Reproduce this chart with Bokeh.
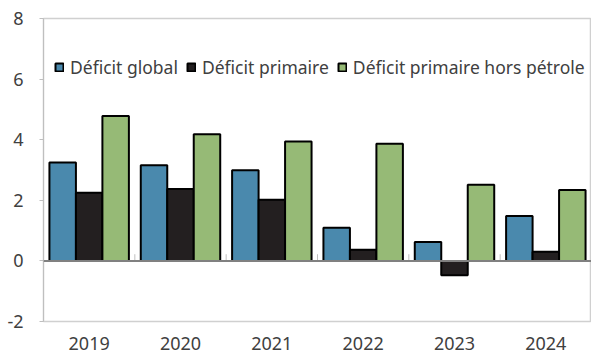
from bokeh.plotting import figure
from bokeh.models import ColumnDataSource, FactorRange, Range1d, Legend, LegendItem, Span, FixedTicker
from bokeh.transform import dodge
from bokeh.embed import file_html
from bokeh.resources import INLINE

years = ["2019", "2020", "2021", "2022", "2023", "2024"]
deficit_global = [3.25, 3.16, 2.99, 1.09, 0.62, 1.48]
deficit_primaire = [2.25, 2.37, 2.02, 0.37, -0.47, 0.30]
deficit_hors_petrole = [4.78, 4.18, 3.94, 3.87, 2.51, 2.34]
series_labels = ["Déficit global", "Déficit primaire", "Déficit primaire hors pétrole"]
y_ticks = [-2, 0, 2, 4, 6, 8]

colors = ["#4a89ad", "#231f20", "#96ba76"]
FONT = "Noto Sans"
TEXT = "#404040"

src = ColumnDataSource(dict(
    year=years,
    g=deficit_global,
    p=deficit_primaire,
    h=deficit_hors_petrole,
    zero=[0] * len(years),
    tick=[0.22] * len(years),
))

p = figure(
    width=591, height=356,
    x_range=FactorRange(factors=years, range_padding=0),
    y_range=Range1d(-2, 8),
    output_backend="svg", toolbar_location=None,
    min_border_left=43, min_border_right=0, min_border_top=18, min_border_bottom=35,
)

bw = 0.29
renderers = []
for col, off, c in zip(["g", "p", "h"], [-bw, 0, bw], colors):
    r = p.vbar(x=dodge("year", off, range=p.x_range), top=col, bottom=0, width=bw,
               source=src, fill_color=c, line_color="black", line_width=2)
    renderers.append(r)

# zero line and category separator ticks
p.add_layout(Span(location=0, dimension="width", line_color="#808080", line_width=2))
p.segment(x0=dodge("year", 0.5, range=p.x_range), x1=dodge("year", 0.5, range=p.x_range),
          y0="zero", y1="tick", source=src, line_color="#bfbfbf", line_width=1)

p.xgrid.visible = False
p.ygrid.visible = False
p.outline_line_color = "#d0d0d0"
p.outline_line_width = 1.5

p.yaxis.ticker = FixedTicker(ticks=y_ticks)
p.yaxis.major_label_overrides = {t: str(t) for t in y_ticks}
p.yaxis.axis_line_color = "#bfbfbf"
p.yaxis.major_tick_line_color = "#bfbfbf"
p.yaxis.major_tick_out = 4
p.yaxis.major_tick_in = 0
p.yaxis.minor_tick_line_color = None
p.yaxis.major_label_standoff = 16
p.yaxis.major_label_text_font = FONT
p.yaxis.major_label_text_font_size = "18px"
p.yaxis.major_label_text_color = TEXT

p.xaxis.axis_line_color = None
p.xaxis.major_tick_line_color = None
p.xaxis.major_label_standoff = 9
p.xaxis.major_label_text_font = FONT
p.xaxis.major_label_text_font_size = "18px"
p.xaxis.major_label_text_color = TEXT

legend = Legend(
    items=[LegendItem(label=l, renderers=[r]) for l, r in zip(series_labels, renderers)],
    orientation="horizontal", location=(11, 242),
    background_fill_alpha=0, border_line_color=None,
    glyph_width=10, glyph_height=10, label_standoff=6, spacing=8,
    label_text_font=FONT, label_text_font_size="17.5px", label_text_color=TEXT,
    padding=4, margin=0,
)
p.add_layout(legend)

open("out.html", "w").write(file_html(p, INLINE))
